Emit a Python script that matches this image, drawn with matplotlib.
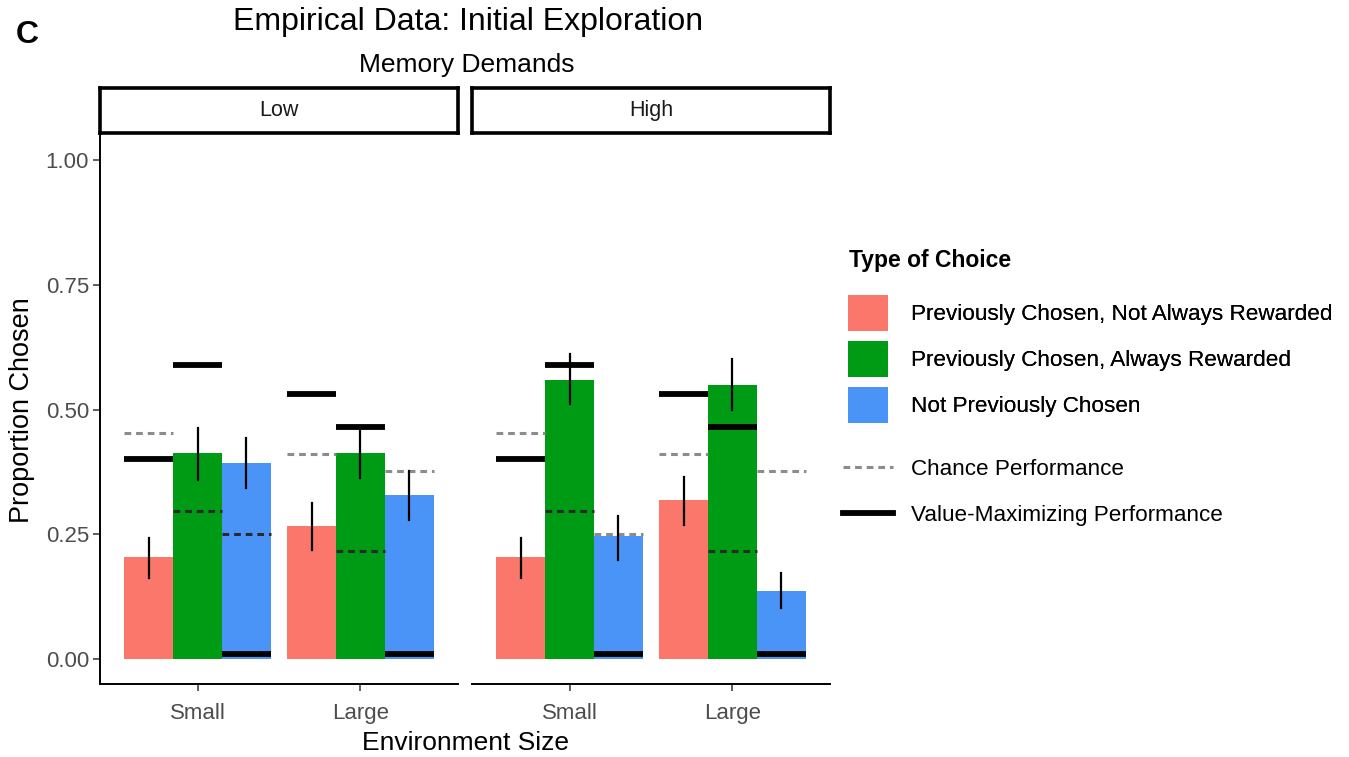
"""
Empirical Data: Initial Exploration -- proportion of each choice type
by environment size, split by memory demands.
"""
import numpy as np
import matplotlib
matplotlib.use("Agg")
import matplotlib.pyplot as plt
from matplotlib.patches import Patch
from matplotlib.lines import Line2D

# --- Data ---
SIZES = ["Small", "Large"]
MEMORY = ["Low", "High"]
CHOICE_TYPES = [
    "Previously Chosen, Not Always Rewarded",
    "Previously Chosen, Always Rewarded",
    "Not Previously Chosen",
]

# rows = environment size, cols = choice type
mean_low = [[0.204, 0.413, 0.393], [0.266, 0.413, 0.329]]
mean_high = [[0.204, 0.559, 0.246], [0.319, 0.549, 0.136]]
ci_lower_low = [[0.162, 0.359, 0.343], [0.218, 0.363, 0.279]]
ci_upper_low = [[0.242, 0.463, 0.443], [0.313, 0.463, 0.377]]
ci_lower_high = [[0.162, 0.511, 0.198], [0.269, 0.499, 0.102]]
ci_upper_high = [[0.242, 0.611, 0.287], [0.365, 0.601, 0.172]]
chance = [[0.453, 0.297, 0.250], [0.411, 0.216, 0.377]]
value_max = [[0.401, 0.589, 0.010], [0.531, 0.465, 0.010]]

# --- Style ---
plt.rcParams.update({
    "font.family": ["Liberation Sans", "DejaVu Sans"],
})
COLORS = ["#FB766B", "#009B14", "#4B94F7"]
TICK_GREY = "#4D4D4D"
W, H = 1349, 757
LEG_FS = 16.2


def fx(px):
    return px / W


def fy(py):
    return 1 - py / H


def draw_panel(ax, means, lo, hi, show_y):
    dodge = 0.9 / 3
    for i in range(len(SIZES)):
        for j in range(len(CHOICE_TYPES)):
            x = i + 1 + (j - 1) * dodge
            m = means[i][j]
            ax.bar(x, m, width=dodge, color=COLORS[j], zorder=1)
            ax.plot([x, x], [lo[i][j], hi[i][j]], color="black", lw=1.6, zorder=3)
            c = chance[i][j]
            ccol = "#2A2A2A" if c < m else "#8C8C8C"
            ax.plot([x - dodge / 2, x + dodge / 2], [c, c], color=ccol,
                    lw=2.2, ls=(0, (2.2, 1.6)), zorder=2, solid_capstyle="butt")
            v = value_max[i][j]
            ax.plot([x - dodge / 2, x + dodge / 2], [v, v], color="black",
                    lw=4.2, zorder=2, solid_capstyle="butt")

    ax.set_xlim(0.4, 2.6)
    ax.set_ylim(-0.05, 1.055)
    ax.set_xticks([1, 2])
    ax.set_xticklabels(SIZES, fontsize=16, color=TICK_GREY)
    for s in ["top", "right"]:
        ax.spines[s].set_visible(False)
    ax.spines["bottom"].set_linewidth(1.4)
    ax.spines["left"].set_linewidth(1.4)
    ax.tick_params(axis="x", length=5, width=1.1, color="#333333", pad=9)
    if show_y:
        ax.set_yticks([0, 0.25, 0.5, 0.75, 1.0])
        ax.set_yticklabels(["0.00", "0.25", "0.50", "0.75", "1.00"],
                           fontsize=16, color=TICK_GREY)
        ax.tick_params(axis="y", length=5, width=1.1, color="#333333", pad=3)
    else:
        ax.spines["left"].set_visible(False)
        ax.set_yticks([])


def main():
    fig = plt.figure(figsize=(W / 100, H / 100), dpi=100)

    panels = [(100, 458), (472, 830)]
    data = [
        (mean_low, ci_lower_low, ci_upper_low),
        (mean_high, ci_lower_high, ci_upper_high),
    ]
    top, bottom = 133, 684
    for k, ((x0, x1), (means, lo, hi)) in enumerate(zip(panels, data)):
        ax = fig.add_axes([fx(x0), fy(bottom), fx(x1 - x0), (bottom - top) / H])
        draw_panel(ax, means, lo, hi, show_y=(k == 0))

        # facet strip
        sax = fig.add_axes([fx(x0), fy(top), fx(x1 - x0), 45 / H])
        sax.set_xticks([])
        sax.set_yticks([])
        for sp in sax.spines.values():
            sp.set_linewidth(2.6)
        sax.text(0.5, 0.5, MEMORY[k], ha="center", va="center",
                 fontsize=15.5, color="#1A1A1A", transform=sax.transAxes)

    fig.text(fx(27), fy(35), "C", fontsize=23, fontweight="bold",
             ha="center", va="center")
    fig.text(fx(468), fy(22), "Empirical Data: Initial Exploration",
             fontsize=23, ha="center", va="center")
    fig.text(fx(467), fy(65), "Memory Demands", fontsize=19,
             ha="center", va="center")
    fig.text(fx(22), fy(410), "Proportion Chosen", fontsize=19.5,
             rotation=90, ha="center", va="center")
    fig.text(fx(465), fy(743), "Environment Size", fontsize=19,
             ha="center", va="center")

    # legends
    fig.text(fx(849), fy(261), "Type of Choice", fontsize=16.5,
             fontweight="bold", ha="left", va="center")
    fill_handles = [Patch(facecolor=c, edgecolor="none") for c in COLORS]
    leg1 = fig.legend(fill_handles, CHOICE_TYPES,
                      loc="upper left", bbox_to_anchor=(fx(839), fy(286)),
                      frameon=False, fontsize=LEG_FS, handlelength=1.78,
                      handleheight=2.08, labelspacing=0.45, handletextpad=1.0,
                      borderaxespad=0)
    fig.add_artist(leg1)

    line_handles = [
        Line2D([0], [0], color="#8C8C8C", lw=2.2, ls=(0, (2.2, 1.6))),
        Line2D([0], [0], color="black", lw=4.2),
    ]
    fig.legend(line_handles, ["Chance Performance", "Value-Maximizing Performance"],
               loc="upper left", bbox_to_anchor=(fx(834), fy(450)),
               frameon=False, fontsize=LEG_FS, handlelength=2.22,
               labelspacing=1.1, handletextpad=0.8, borderaxespad=0)

    fig.savefig("out.png", dpi=100)
    plt.close(fig)


if __name__ == "__main__":
    main()
